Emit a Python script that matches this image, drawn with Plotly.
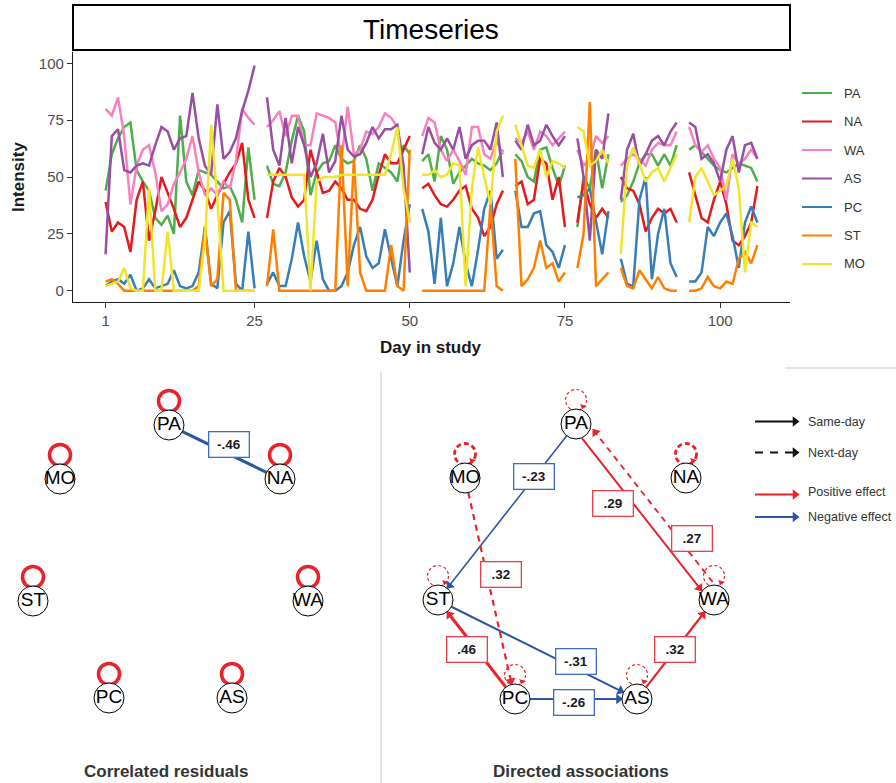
import math
import plotly.graph_objects as go

# ---------------- time-series data ----------------
N = None
days = list(range(1, 107))
series_order = ["PA", "NA", "WA", "AS", "PC", "ST", "MO"]

PA = [44, 60, 67, 72, 74, 53, 48, 44, 32, 29, 33, 25, 77, 48, 42, 53, 52, 51, 48, 45, 46, 40, 30, 63, 40, N,
      55, 47, 46, 52, 66, 77, 70, 42, 52, 56, 57, 64, 58, 56, 57, 64, 58, 44, 56, 54, 52, 48, 64, 60, N,
      57, 60, 48, 68, 62, 47, 52, 55, 58, 56, 55, 53, 56, 62, N,
      60, 57, 50, 48, 62, 63, 54, 46, 55, N,
      28, 50, 45, 62, 45, 60, N,
      39, 42, 48, 56, 60, 60, 55, 60, 55, 64, N,
      62, 64, 61, 58, 55, 53, 52, 54, 56, 55, 54, 48]
NA = [39, 26, 30, 28, 17, 40, 48, 22, 35, 50, 43, 36, 28, 32, 40, 48, 44, 36, 42, 47, 52, 56, 65, 40, 32, N,
      32, 48, 54, 50, 41, 37, 40, 62, 52, 43, 44, 48, 45, 40, 40, 36, 35, 40, 51, 60, 56, 56, 62, 68, N,
      45, 47, 42, 38, 37, 40, 44, 46, 36, 32, 24, 28, 38, 44, N,
      46, 48, 38, 40, 58, 56, 40, 50, 28, N,
      30, 48, 38, 32, 36, 32, N,
      50, 45, 44, 38, 26, 32, 36, 34, 36, 30, N,
      52, 42, 32, 30, 40, 48, 38, 22, 20, 24, 30, 46]
WA = [80, 77, 85, 68, 38, 55, 62, 64, 52, 35, 38, 47, 52, 58, 68, 52, 42, 45, 42, 48, 45, 57, 80, 76, 73, N,
      72, 75, 79, 68, 77, 77, 64, 64, 78, 77, 76, 74, 58, 81, 60, 62, 70, 69, 72, 78, 76, 72, 52, 30, N,
      68, 76, 74, 62, 57, 62, 57, 51, 72, 72, 60, 58, 66, 60, N,
      67, 65, 70, 62, 70, 68, 64, 67, 70, N,
      62, 55, 58, 68, 65, 68, N,
      55, 58, 60, 58, 55, 62, 65, 64, 64, 70, N,
      72, 64, 61, 64, 58, 54, 40, 60, 56, 58, 62, 58]
AS = [16, 68, 71, 53, 52, 55, 56, 55, 64, 72, 70, 62, 67, 68, 87, 67, 55, 51, 82, 58, 61, 67, 79, 88, 99, N,
      85, 62, 55, 76, 56, 72, 64, 50, 56, 69, 52, 57, 77, 62, 59, 60, 65, 72, 67, 71, 71, 73, 55, 8, N,
      60, 72, 65, 62, 67, 62, 72, 58, 64, 66, 66, 62, 74, 50, N,
      66, 62, 73, 64, 66, 73, 68, 64, 68, N,
      67, 50, 22, 62, 58, 78, N,
      40, 62, 69, 55, 60, 66, 68, 64, 70, 74, N,
      74, 72, 58, 60, 56, 48, 62, 68, 52, 64, 65, 58]
PC = [2, 4, 5, 3, 7, 0, 1, 5, 1, 2, 3, 9, 2, 1, 2, 8, 28, 3, 1, 30, 35, 3, 0, 26, 1, N,
      3, 8, 2, 2, 14, 30, 15, 4, 22, 5, 0, 0, 2, 8, 20, 28, 15, 10, 12, 27, 14, 2, 22, 38, N,
      36, 26, 3, 32, 2, 12, 28, 12, 2, 18, 36, 44, 14, 18, N,
      44, 28, 28, 34, 35, 20, 17, 10, 20, N,
      41, 42, 45, 30, 16, 35, N,
      14, 3, 2, 40, 50, 5, 25, 36, 12, 6, N,
      4, 4, 8, 28, 24, 30, 34, 24, 10, 30, 37, 30]
ST = [4, 5, 3, 0, 0, 0, 0, 0, 0, 0, 0, 0, 0, 0, 0, 2, 28, 2, 5, 43, 40, 0, 0, 0, 0, N,
      2, 27, 0, 0, 0, 0, 0, 0, 0, 0, 0, 0, 64, 2, 58, 8, 0, 0, 0, 0, 20, 2, 0, 62, N,
      0, 0, 0, 0, 0, 0, 0, 0, 0, 0, 0, 38, 2, 0, N,
      58, 2, 5, 10, 22, 10, 12, 4, 8, N,
      10, 25, 83, 2, 5, 8, N,
      10, 2, 1, 9, 5, 1, 6, 1, 0, 0, N,
      0, 0, 1, 6, 2, 1, 4, 3, 14, 17, 12, 20]
MO = [2, 3, 4, 10, 1, 0, 0, 45, 0, 0, 26, 0, 0, 0, 0, 0, 22, 73, 40, 0, 0, 0, 0, 0, 0, N,
      51, 51, 51, 51, 51, 51, 51, 0, 48, 50, 50, 50, 51, 51, 51, 51, 51, 51, 51, 51, 60, 72, 45, 30, N,
      51, 51, 53, 50, 51, 56, 55, 2, 45, 63, 50, 38, 70, 77, N,
      73, 64, 55, 54, 62, 50, 57, 56, 54, N,
      72, 70, 55, 57, 62, 56, N,
      16, 55, 63, 56, 48, 52, 54, 48, 54, 60, N,
      30, 50, 54, 48, 42, 44, 46, 58, 45, 8, 30, 28]
x_ticks = [1, 25, 50, 75, 100]
y_ticks = [0, 25, 50, 75, 100]

# ---------------- network data ----------------
node_names = ["PA", "NA", "WA", "AS", "PC", "ST", "MO"]
resid_edges = [("PA", "NA", -0.46)]
resid_loops = ["PA", "NA", "WA", "AS", "PC", "ST", "MO"]
sameday_edges = [("PA", "ST", -0.23), ("PA", "WA", 0.29), ("ST", "AS", -0.31),
                 ("PC", "ST", 0.46), ("PC", "AS", -0.26), ("AS", "WA", 0.32)]
nextday_edges = [("WA", "PA", 0.27), ("MO", "PC", 0.32)]
nextday_loops = ["PA", "NA", "WA", "AS", "PC", "ST", "MO"]
net_legend = ["Same-day", "Next-day", "Positive effect", "Negative effect"]

# ---------------- styles / layout ----------------
W, H = 896, 783
FONT = "Liberation Sans, Arial, sans-serif"
colors = {"PA": "#4daf4a", "NA": "#e41a1c", "WA": "#f781bf", "AS": "#984ea3",
          "PC": "#377eb8", "ST": "#ff7f00", "MO": "#f0e52a"}
RED = "#e8232b"
BLUE = "#2b56a6"
RED_BOX = "#e8414a"
BLUE_BOX = "#3d6cc0"

left_pos = {"PA": (169, 425), "NA": (280, 479), "MO": (60, 479), "ST": (33, 601),
            "WA": (308, 601), "PC": (109, 698), "AS": (232, 698)}
right_pos = {"PA": (576, 424), "MO": (465, 478), "NA": (686, 478), "ST": (438, 600),
             "WA": (714, 600), "PC": (515, 699), "AS": (637, 699)}
left_label_pos = {("PA", "NA"): (229, 444)}
right_label_pos = {("PA", "ST"): (534, 476), ("PA", "WA"): (613, 503), ("WA", "PA"): (692, 538),
                   ("MO", "PC"): (501, 574), ("ST", "AS"): (576, 661), ("PC", "ST"): (467, 649),
                   ("PC", "AS"): (574, 702), ("AS", "WA"): (675, 649)}
edge_offset = {("PA", "WA"): 4, ("WA", "PA"): 10}
thick_loops = {"MO", "NA"}
NODE_R = 15


def fx(x):
    return x / W


def fy(y):
    return 1 - y / H


fig = go.Figure()

# ---------------- time series ----------------
ts = {"PA": PA, "NA": NA, "WA": WA, "AS": AS, "PC": PC, "ST": ST, "MO": MO}
for name in series_order:
    fig.add_trace(go.Scatter(x=days, y=ts[name], mode="lines", name=name,
                             line=dict(color=colors[name], width=2.5),
                             connectgaps=False, hoverinfo="skip", showlegend=False,
                             xaxis="x", yaxis="y"))

shapes = []
annotations = []


def paper_text(x, y, text, size, color, weight="normal", xanchor="center", angle=0):
    annotations.append(dict(x=fx(x), y=fy(y), xref="paper", yref="paper", text=text,
                            xanchor=xanchor, yanchor="middle", textangle=angle, showarrow=False,
                            font=dict(family=FONT, size=size, color=color, weight=weight)))


# facet strip
shapes.append(dict(type="rect", xref="paper", yref="paper", x0=fx(73), x1=fx(790),
                   y0=fy(50), y1=fy(5), line=dict(color="black", width=2), fillcolor="white",
                   layer="below"))
paper_text(431, 30, "Timeseries", 28, "black")
paper_text(18, 177, "Intensity", 17, "#1a1a1a", "bold", angle=-90)
paper_text(431, 347, "Day in study", 17, "#1a1a1a", "bold")

# manual legend for time series
for i, name in enumerate(series_order):
    ly = 93 + i * 28.5
    shapes.append(dict(type="line", xref="paper", yref="paper", x0=fx(802), x1=fx(832),
                       y0=fy(ly), y1=fy(ly), line=dict(color=colors[name], width=2)))
    paper_text(842, ly, name, 13, "#333333", xanchor="left")

# separators
shapes.append(dict(type="line", xref="paper", yref="paper", x0=fx(381), x1=fx(381),
                   y0=fy(372), y1=fy(783), line=dict(color="#c8c8c8", width=1)))
shapes.append(dict(type="line", xref="paper", yref="paper", x0=fx(785), x1=fx(896),
                   y0=fy(368), y1=fy(368), line=dict(color="#c8c8c8", width=1)))


# ---------------- network helpers ----------------
def add_line(xs, ys, color, width, dash="solid"):
    fig.add_trace(go.Scatter(x=xs, y=ys, mode="lines",
                             line=dict(color=color, width=width, dash=dash),
                             xaxis="x2", yaxis="y2", hoverinfo="skip", showlegend=False))


def add_head(x, y, ux, uy, color, size=9):
    ang = math.degrees(math.atan2(ux, -uy))
    fig.add_trace(go.Scatter(x=[x], y=[y], mode="markers",
                             marker=dict(symbol="triangle-up", size=size, color=color, angle=ang,
                                         line=dict(width=0)),
                             xaxis="x2", yaxis="y2", hoverinfo="skip", showlegend=False))


def fmt(w):
    s = f"{w:.2f}"
    return s.replace("0.", ".")


def draw_edge(pos, a, b, w, dash, arrow, label_xy):
    (x0, y0), (x1, y1) = pos[a], pos[b]
    L = math.hypot(x1 - x0, y1 - y0)
    ux, uy = (x1 - x0) / L, (y1 - y0) / L
    nx, ny = -uy, ux
    off = edge_offset.get((a, b), 0) if arrow else 0
    sx, sy = x0 + ux * NODE_R + nx * off, y0 + uy * NODE_R + ny * off
    ex, ey = x1 - ux * NODE_R + nx * off, y1 - uy * NODE_R + ny * off
    color = RED if w > 0 else BLUE
    width = 1.4 + (abs(w) - 0.2) * 6.5
    if arrow:
        add_line([sx, ex - ux * 5], [sy, ey - uy * 5], color, width, dash)
        add_head(ex - ux * 3.5, ey - uy * 3.5, ux, uy, color, 9)
    else:
        add_line([sx, ex], [sy, ey], color, width, dash)
    lx, ly = label_xy
    annotations.append(dict(x=lx, y=ly, xref="x2", yref="y2", text=fmt(w), showarrow=False,
                            xanchor="center", yanchor="middle",
                            bgcolor="white", bordercolor=RED_BOX if w > 0 else BLUE_BOX,
                            borderwidth=1.3, borderpad=3, width=33, height=18,
                            font=dict(family=FONT, size=13.5, color="#1a1a1a", weight="bold")))


def draw_loop(pos, n, color, width, dash, head):
    cx, cy = pos[n]
    r = 10.5
    ccy = cy - 24
    shapes.append(dict(type="circle", xref="x2", yref="y2", x0=cx - r, x1=cx + r,
                       y0=ccy - r, y1=ccy + r, layer="below",
                       line=dict(color=color, width=width, dash=dash)))
    if head:
        add_head(cx + 7, cy - 17.5, -0.35, 0.94, color, 6)


def draw_nodes(pos):
    names = [n for n in node_names]
    fig.add_trace(go.Scatter(x=[pos[n][0] for n in names], y=[pos[n][1] for n in names],
                             mode="markers+text", text=names, textposition="middle center",
                             textfont=dict(family=FONT, size=19, color="black"),
                             marker=dict(size=2 * NODE_R, color="white",
                                         line=dict(color="black", width=1)),
                             xaxis="x2", yaxis="y2", hoverinfo="skip", showlegend=False))


# ---------------- left network: correlated residuals ----------------
for n in resid_loops:
    draw_loop(left_pos, n, RED, 3.6, "solid", False)
for a, b, w in resid_edges:
    draw_edge(left_pos, a, b, w, "solid", False, left_label_pos[(a, b)])
draw_nodes(left_pos)

# ---------------- right network: directed associations ----------------
for n in nextday_loops:
    if n in thick_loops:
        draw_loop(right_pos, n, RED, 2.8, "5px,3px", True)
    else:
        draw_loop(right_pos, n, RED, 1.2, "3px,2.5px", True)
for a, b, w in sameday_edges:
    draw_edge(right_pos, a, b, w, "solid", True, right_label_pos[(a, b)])
for a, b, w in nextday_edges:
    draw_edge(right_pos, a, b, w, "6px,5px", True, right_label_pos[(a, b)])
draw_nodes(right_pos)

# network legend
leg_style = {"Same-day": ("#111111", "solid", 421.5, 421.5),
             "Next-day": ("#111111", "8px,7px", 452.5, 452.5),
             "Positive effect": (RED, "solid", 494.5, 491.5),
             "Negative effect": (BLUE, "solid", 517, 517)}
for item in net_legend:
    col, dash, ly, ty = leg_style[item]
    add_line([755, 793], [ly, ly], col, 2.2, dash)
    add_head(795, ly, 1, 0, col, 9)
    annotations.append(dict(x=806, y=ty, xref="x2", yref="y2", text=item, xanchor="left",
                            yanchor="middle", showarrow=False,
                            font=dict(family=FONT, size=12.5, color="#333333")))

annotations.append(dict(x=166, y=771, xref="x2", yref="y2", text="Correlated residuals",
                        xanchor="center", yanchor="middle", showarrow=False,
                        font=dict(family=FONT, size=17, color="#333333", weight="bold")))
annotations.append(dict(x=581, y=771, xref="x2", yref="y2", text="Directed associations",
                        xanchor="center", yanchor="middle", showarrow=False,
                        font=dict(family=FONT, size=17, color="#333333", weight="bold")))

fig.update_layout(
    width=W, height=H, margin=dict(l=0, r=0, t=0, b=0),
    paper_bgcolor="white", plot_bgcolor="rgba(0,0,0,0)",
    showlegend=False,
    xaxis=dict(domain=[fx(73), fx(790)], range=[-4.25, 111.25], tickvals=x_ticks,
               ticks="outside", ticklen=5, tickwidth=1.1, tickcolor="#333333",
               showline=True, linecolor="#1a1a1a", linewidth=1.3, showgrid=False, zeroline=False,
               tickfont=dict(family=FONT, size=15, color="#4d4d4d"), anchor="y", fixedrange=True),
    yaxis=dict(domain=[fy(302), fy(52)], range=[-5, 105], tickvals=y_ticks,
               ticks="outside", ticklen=5, tickwidth=1.1, tickcolor="#333333",
               showline=True, linecolor="#1a1a1a", linewidth=1.3, showgrid=False, zeroline=False,
               tickfont=dict(family=FONT, size=15, color="#4d4d4d"), anchor="x", fixedrange=True),
    xaxis2=dict(domain=[0, 1], range=[0, W], visible=False, anchor="y2", fixedrange=True),
    yaxis2=dict(domain=[0, 1], range=[H, 0], visible=False, anchor="x2", fixedrange=True),
    shapes=shapes,
    annotations=annotations,
)

fig.write_html("out.html")
